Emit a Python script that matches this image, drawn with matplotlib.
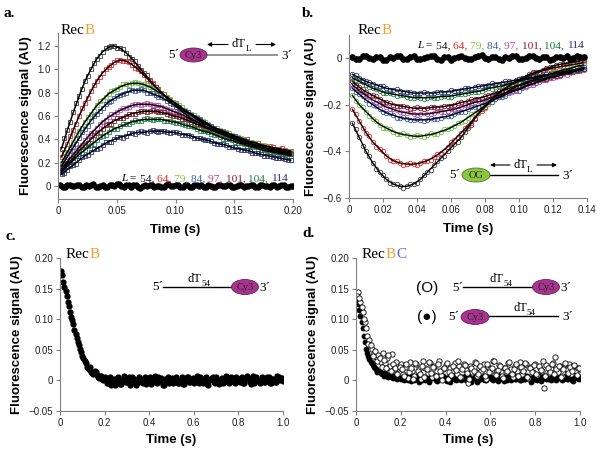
import matplotlib
matplotlib.use('Agg')
import matplotlib.pyplot as plt
from matplotlib.patches import Ellipse
import numpy as np

plt.rcParams['font.family'] = ['Liberation Sans', 'DejaVu Sans']
SERIF = ['Liberation Serif', 'DejaVu Serif']

# ---------------- data ----------------
lengths = ['54', '64', '79', '84', '97', '101', '104', '114']
series_colors = ['#3a3a3a', '#e8262a', '#6cbf3e', '#3b5ca8', '#c44dbb', '#8f1f2e', '#1d8a45', '#2c3580']
label_colors = ['#111111', '#e02020', '#8cc63f', '#3a5fad', '#c040a0', '#8b1a2a', '#1a7a40', '#2a2a6a']

# panel a: Cy3 signal. fit curve values (time in ms) and extra observed points between them
time_a_ms = [3, 8, 13, 18, 23, 28, 33, 38, 43, 48, 53, 58, 63, 68, 73, 78, 83, 88, 93, 98,
             103, 108, 113, 118, 123, 128, 133, 138, 143, 148, 153, 158, 163, 168, 173, 178, 183, 188, 193, 198]
time_a_obs_ms = [5.5, 10.5, 15.5, 20.5, 25.5, 30.5, 35.5, 40.5, 45.5, 50.5, 55.5, 60.5, 65.5, 70.5, 75.5, 80.5,
                 85.5, 90.5, 95.5, 100.5, 105.5, 110.5, 115.5, 120.5, 125.5, 130.5, 135.5, 140.5, 145.5, 150.5,
                 155.5, 160.5, 165.5, 170.5, 175.5, 180.5, 185.5, 190.5, 195.5]
a_54 = [0.32, 0.48, 0.63, 0.77, 0.90, 1.00, 1.09, 1.15, 1.19, 1.20, 1.18, 1.14, 1.09, 1.03, 0.97, 0.91, 0.85, 0.80, 0.75, 0.70,
        0.66, 0.62, 0.58, 0.55, 0.52, 0.49, 0.47, 0.45, 0.43, 0.41, 0.39, 0.37, 0.36, 0.34, 0.33, 0.32, 0.31, 0.30, 0.29, 0.28]
a_64 = [0.25, 0.36, 0.48, 0.60, 0.71, 0.81, 0.90, 0.97, 1.02, 1.06, 1.08, 1.07, 1.04, 1.00, 0.95, 0.90, 0.85, 0.80, 0.76, 0.72,
        0.68, 0.64, 0.61, 0.57, 0.54, 0.52, 0.49, 0.47, 0.45, 0.43, 0.41, 0.40, 0.38, 0.37, 0.35, 0.34, 0.33, 0.32, 0.31, 0.30]
a_79 = [0.20, 0.29, 0.38, 0.47, 0.55, 0.62, 0.69, 0.74, 0.79, 0.82, 0.85, 0.87, 0.88, 0.88, 0.87, 0.85, 0.82, 0.79, 0.76, 0.72,
        0.69, 0.65, 0.62, 0.59, 0.56, 0.53, 0.50, 0.48, 0.46, 0.44, 0.42, 0.40, 0.38, 0.37, 0.35, 0.34, 0.32, 0.31, 0.30, 0.29]
a_84 = [0.17, 0.25, 0.33, 0.41, 0.49, 0.56, 0.62, 0.67, 0.72, 0.75, 0.78, 0.80, 0.82, 0.82, 0.82, 0.80, 0.78, 0.76, 0.73, 0.70,
        0.67, 0.64, 0.61, 0.58, 0.55, 0.52, 0.50, 0.47, 0.45, 0.43, 0.41, 0.39, 0.37, 0.35, 0.34, 0.32, 0.31, 0.30, 0.29, 0.27]
a_97 = [0.15, 0.21, 0.27, 0.33, 0.39, 0.45, 0.50, 0.55, 0.59, 0.62, 0.65, 0.67, 0.69, 0.70, 0.70, 0.70, 0.69, 0.68, 0.66, 0.64,
        0.62, 0.60, 0.57, 0.55, 0.52, 0.50, 0.48, 0.46, 0.44, 0.42, 0.40, 0.38, 0.36, 0.35, 0.33, 0.32, 0.31, 0.29, 0.28, 0.27]
a_101 = [0.13, 0.19, 0.24, 0.30, 0.35, 0.40, 0.45, 0.49, 0.53, 0.56, 0.58, 0.60, 0.62, 0.63, 0.64, 0.64, 0.64, 0.63, 0.62, 0.60,
         0.59, 0.57, 0.55, 0.53, 0.51, 0.49, 0.47, 0.45, 0.43, 0.41, 0.39, 0.37, 0.36, 0.34, 0.33, 0.31, 0.30, 0.29, 0.28, 0.27]
a_104 = [0.12, 0.17, 0.22, 0.27, 0.31, 0.35, 0.39, 0.43, 0.46, 0.49, 0.51, 0.53, 0.55, 0.56, 0.57, 0.57, 0.57, 0.57, 0.56, 0.55,
         0.54, 0.52, 0.51, 0.49, 0.47, 0.46, 0.44, 0.42, 0.40, 0.39, 0.37, 0.36, 0.34, 0.33, 0.31, 0.30, 0.29, 0.28, 0.27, 0.26]
a_114 = [0.10, 0.14, 0.18, 0.22, 0.26, 0.29, 0.32, 0.35, 0.38, 0.40, 0.42, 0.43, 0.45, 0.46, 0.46, 0.47, 0.47, 0.47, 0.46, 0.46,
         0.45, 0.44, 0.43, 0.41, 0.40, 0.39, 0.37, 0.36, 0.35, 0.33, 0.32, 0.31, 0.30, 0.28, 0.27, 0.26, 0.25, 0.24, 0.23, 0.22]
a_54_obs = [0.41, 0.545, 0.715, 0.835, 0.94, 1.055, 1.11, 1.185, 1.20, 1.18, 1.17, 1.105, 1.07, 0.99, 0.95, 0.875, 0.835, 0.765,
            0.73, 0.675, 0.65, 0.59, 0.57, 0.53, 0.51, 0.475, 0.465, 0.435, 0.425, 0.395, 0.385, 0.36, 0.355, 0.33, 0.33, 0.31,
            0.31, 0.29, 0.29]
a_64_obs = [0.295, 0.43, 0.535, 0.665, 0.755, 0.865, 0.93, 1.005, 1.035, 1.08, 1.07, 1.065, 1.01, 0.985, 0.92, 0.885, 0.82,
            0.79, 0.735, 0.71, 0.655, 0.635, 0.585, 0.565, 0.525, 0.515, 0.475, 0.47, 0.435, 0.43, 0.40, 0.40, 0.37, 0.37,
            0.34, 0.345, 0.32, 0.325, 0.30]
a_79_obs = [0.255, 0.325, 0.435, 0.50, 0.595, 0.645, 0.725, 0.76, 0.815, 0.83, 0.87, 0.865, 0.89, 0.87, 0.865, 0.83, 0.81,
            0.765, 0.745, 0.70, 0.68, 0.63, 0.61, 0.57, 0.55, 0.51, 0.495, 0.465, 0.455, 0.425, 0.415, 0.385, 0.38, 0.355,
            0.35, 0.325, 0.32, 0.30, 0.30]
a_84_obs = [0.20, 0.30, 0.36, 0.46, 0.515, 0.60, 0.64, 0.705, 0.73, 0.775, 0.785, 0.82, 0.815, 0.83, 0.80, 0.795, 0.76, 0.75,
            0.71, 0.69, 0.65, 0.63, 0.59, 0.57, 0.53, 0.515, 0.48, 0.465, 0.435, 0.425, 0.395, 0.385, 0.355, 0.35, 0.325,
            0.32, 0.30, 0.30, 0.275]
a_97_obs = [0.19, 0.23, 0.31, 0.355, 0.43, 0.465, 0.535, 0.565, 0.615, 0.63, 0.67, 0.675, 0.705, 0.695, 0.71, 0.69, 0.69,
            0.665, 0.655, 0.625, 0.615, 0.58, 0.565, 0.53, 0.515, 0.485, 0.475, 0.445, 0.435, 0.405, 0.395, 0.365, 0.36,
            0.335, 0.33, 0.31, 0.305, 0.28, 0.28]
a_101_obs = [0.15, 0.225, 0.26, 0.335, 0.365, 0.435, 0.46, 0.52, 0.535, 0.58, 0.585, 0.62, 0.62, 0.645, 0.635, 0.65, 0.63,
             0.63, 0.605, 0.60, 0.575, 0.565, 0.535, 0.525, 0.495, 0.485, 0.455, 0.445, 0.415, 0.405, 0.375, 0.37, 0.345,
             0.34, 0.315, 0.31, 0.29, 0.29, 0.27]
a_104_obs = [0.155, 0.185, 0.255, 0.28, 0.34, 0.36, 0.42, 0.435, 0.485, 0.49, 0.53, 0.535, 0.565, 0.56, 0.58, 0.565, 0.575,
             0.56, 0.56, 0.54, 0.535, 0.51, 0.505, 0.475, 0.47, 0.445, 0.435, 0.405, 0.40, 0.375, 0.37, 0.345, 0.34, 0.315,
             0.31, 0.29, 0.29, 0.27, 0.27]
a_114_obs = [0.11, 0.17, 0.19, 0.25, 0.265, 0.315, 0.325, 0.375, 0.38, 0.42, 0.415, 0.45, 0.445, 0.47, 0.455, 0.48, 0.46,
             0.475, 0.45, 0.465, 0.44, 0.44, 0.415, 0.41, 0.39, 0.385, 0.36, 0.36, 0.335, 0.33, 0.31, 0.31, 0.285, 0.28,
             0.26, 0.26, 0.24, 0.24, 0.22]
a_fit = [a_54, a_64, a_79, a_84, a_97, a_101, a_104, a_114]
a_obs = [a_54_obs, a_64_obs, a_79_obs, a_84_obs, a_97_obs, a_101_obs, a_104_obs, a_114_obs]
base_a_ms = list(range(2, 199, 4))
base_a2_ms = list(range(4, 201, 4))
base_a = [0.005, -0.008, 0.012, -0.004, 0.009, -0.011, 0.003, 0.014, -0.006, 0.008,
          -0.012, 0.006, 0.018, -0.003, 0.010, -0.009, 0.004, -0.014, 0.007, 0.011,
          -0.005, 0.002, -0.010, 0.013, -0.002, 0.006, -0.008, 0.009, -0.013, 0.004,
          0.010, -0.006, 0.003, -0.011, 0.008, -0.004, 0.012, -0.007, 0.005, -0.009,
          0.002, 0.009, -0.012, 0.006, -0.003, 0.011, -0.008, 0.004, -0.006, 0.003]
base_a2 = [-0.006, 0.010, -0.003, 0.007, -0.010, 0.005, 0.012, -0.008, 0.002, -0.005,
           0.009, -0.002, 0.014, -0.007, 0.004, 0.008, -0.011, 0.003, -0.004, 0.010,
           0.001, -0.009, 0.006, -0.003, 0.011, -0.006, 0.004, -0.010, 0.007, 0.002,
           -0.005, 0.009, -0.008, 0.005, -0.002, 0.010, -0.006, 0.003, 0.008, -0.004,
           0.006, -0.010, 0.004, 0.001, -0.007, 0.009, -0.003, 0.005, -0.008, 0.002]

# panel b: OG signal (time in ms)
time_b_ms = [2, 6, 10, 14, 18, 22, 26, 30, 34, 38, 42, 46, 50, 54, 58, 62, 66, 70, 74, 78,
             82, 86, 90, 94, 98, 102, 106, 110, 114, 118, 122, 126, 130, 134, 138]
time_b_obs_ms = [4, 8, 12, 16, 20, 24, 28, 32, 36, 40, 44, 48, 52, 56, 60, 64, 68, 72, 76, 80,
                 84, 88, 92, 96, 100, 104, 108, 112, 116, 120, 124, 128, 132, 136]
b_54 = [-0.28, -0.34, -0.40, -0.45, -0.49, -0.52, -0.54, -0.55, -0.55, -0.54, -0.52, -0.49, -0.46, -0.43, -0.40, -0.37, -0.34, -0.30,
        -0.26, -0.22, -0.19, -0.16, -0.14, -0.12, -0.10, -0.085, -0.07, -0.06, -0.05, -0.04, -0.03, -0.025, -0.02, -0.015, -0.01]
b_64 = [-0.22, -0.27, -0.32, -0.36, -0.39, -0.42, -0.44, -0.45, -0.455, -0.455, -0.45, -0.44, -0.425, -0.405, -0.38, -0.35, -0.32, -0.29,
        -0.255, -0.225, -0.195, -0.165, -0.14, -0.12, -0.10, -0.09, -0.075, -0.065, -0.055, -0.045, -0.04, -0.035, -0.03, -0.025, -0.02]
b_79 = [-0.16, -0.20, -0.23, -0.26, -0.285, -0.30, -0.315, -0.325, -0.33, -0.335, -0.335, -0.33, -0.325, -0.315, -0.305, -0.29, -0.275, -0.255,
        -0.235, -0.215, -0.195, -0.175, -0.16, -0.14, -0.125, -0.11, -0.10, -0.09, -0.08, -0.07, -0.06, -0.05, -0.045, -0.035, -0.03]
b_84 = [-0.13, -0.155, -0.18, -0.20, -0.22, -0.235, -0.245, -0.255, -0.26, -0.265, -0.265, -0.265, -0.26, -0.255, -0.25, -0.24, -0.23, -0.22,
        -0.21, -0.20, -0.19, -0.175, -0.165, -0.15, -0.14, -0.13, -0.115, -0.105, -0.095, -0.085, -0.075, -0.065, -0.055, -0.05, -0.04]
b_97 = [-0.115, -0.14, -0.16, -0.18, -0.195, -0.21, -0.22, -0.23, -0.235, -0.24, -0.24, -0.24, -0.235, -0.23, -0.225, -0.22, -0.21, -0.20,
        -0.19, -0.185, -0.175, -0.165, -0.155, -0.145, -0.135, -0.125, -0.115, -0.105, -0.095, -0.085, -0.08, -0.07, -0.065, -0.055, -0.05]
b_101 = [-0.10, -0.125, -0.145, -0.16, -0.175, -0.19, -0.20, -0.205, -0.21, -0.215, -0.215, -0.215, -0.21, -0.21, -0.205, -0.20, -0.19, -0.185,
         -0.175, -0.17, -0.16, -0.15, -0.14, -0.13, -0.12, -0.115, -0.105, -0.095, -0.09, -0.08, -0.075, -0.065, -0.06, -0.055, -0.045]
b_104 = [-0.085, -0.10, -0.115, -0.13, -0.14, -0.15, -0.155, -0.16, -0.165, -0.17, -0.17, -0.17, -0.17, -0.165, -0.165, -0.16, -0.155, -0.15,
         -0.145, -0.14, -0.13, -0.125, -0.12, -0.11, -0.105, -0.095, -0.09, -0.085, -0.075, -0.07, -0.065, -0.06, -0.055, -0.05, -0.045]
b_114 = [-0.07, -0.085, -0.10, -0.11, -0.12, -0.13, -0.135, -0.14, -0.145, -0.15, -0.15, -0.15, -0.15, -0.145, -0.145, -0.14, -0.135, -0.13,
         -0.125, -0.12, -0.115, -0.11, -0.105, -0.10, -0.095, -0.09, -0.085, -0.08, -0.075, -0.07, -0.065, -0.06, -0.055, -0.05, -0.045]
b_54_obs = [-0.305, -0.375, -0.42, -0.475, -0.50, -0.535, -0.54, -0.555, -0.54, -0.535, -0.50, -0.48, -0.44, -0.42, -0.38, -0.36, -0.315,
            -0.285, -0.235, -0.21, -0.17, -0.155, -0.125, -0.115, -0.09, -0.08, -0.062, -0.058, -0.043, -0.037, -0.026, -0.024, -0.016, -0.014]
b_64_obs = [-0.24, -0.30, -0.335, -0.38, -0.40, -0.435, -0.44, -0.458, -0.45, -0.458, -0.44, -0.438, -0.41, -0.398, -0.36, -0.34, -0.30,
            -0.278, -0.235, -0.215, -0.175, -0.158, -0.125, -0.115, -0.09, -0.088, -0.066, -0.064, -0.047, -0.046, -0.035, -0.036, -0.025, -0.025]
b_79_obs = [-0.185, -0.21, -0.25, -0.268, -0.298, -0.303, -0.325, -0.323, -0.338, -0.33, -0.338, -0.323, -0.325, -0.305, -0.302, -0.278,
            -0.27, -0.24, -0.23, -0.20, -0.19, -0.163, -0.155, -0.128, -0.122, -0.10, -0.099, -0.081, -0.079, -0.061, -0.059, -0.044, -0.043, -0.03]
b_84_obs = [-0.147, -0.163, -0.195, -0.206, -0.232, -0.236, -0.255, -0.253, -0.267, -0.261, -0.27, -0.258, -0.262, -0.248, -0.25, -0.231,
            -0.23, -0.211, -0.21, -0.191, -0.187, -0.166, -0.162, -0.141, -0.14, -0.118, -0.115, -0.096, -0.095, -0.076, -0.075, -0.056, -0.057, -0.041]
b_97_obs = [-0.123, -0.155, -0.166, -0.192, -0.198, -0.22, -0.221, -0.237, -0.233, -0.245, -0.236, -0.242, -0.228, -0.232, -0.218, -0.22,
            -0.201, -0.199, -0.183, -0.184, -0.166, -0.164, -0.146, -0.144, -0.126, -0.124, -0.106, -0.104, -0.086, -0.087, -0.071, -0.072, -0.056, -0.057]
b_101_obs = [-0.117, -0.131, -0.157, -0.164, -0.187, -0.191, -0.207, -0.204, -0.217, -0.211, -0.219, -0.209, -0.214, -0.204, -0.207, -0.191,
             -0.192, -0.176, -0.177, -0.161, -0.159, -0.141, -0.139, -0.121, -0.122, -0.106, -0.104, -0.089, -0.089, -0.074, -0.074, -0.059, -0.061, -0.047]
b_104_obs = [-0.096, -0.104, -0.126, -0.131, -0.149, -0.149, -0.161, -0.159, -0.171, -0.166, -0.174, -0.167, -0.171, -0.161, -0.166, -0.154,
             -0.156, -0.144, -0.146, -0.131, -0.131, -0.119, -0.119, -0.104, -0.104, -0.089, -0.091, -0.077, -0.076, -0.064, -0.066, -0.054, -0.056, -0.044]
b_114_obs = [-0.074, -0.096, -0.101, -0.119, -0.121, -0.136, -0.134, -0.146, -0.144, -0.154, -0.146, -0.154, -0.144, -0.149, -0.139, -0.141,
             -0.129, -0.131, -0.119, -0.121, -0.109, -0.111, -0.099, -0.101, -0.089, -0.091, -0.079, -0.081, -0.069, -0.071, -0.059, -0.061, -0.049, -0.051]
b_fit = [b_54, b_64, b_79, b_84, b_97, b_101, b_104, b_114]
b_obs = [b_54_obs, b_64_obs, b_79_obs, b_84_obs, b_97_obs, b_101_obs, b_104_obs, b_114_obs]
base_b = [0.004, -0.006, 0.008, -0.003, 0.006, -0.009, 0.002, 0.010, -0.005, 0.007,
          -0.004, 0.003, 0.009, -0.007, 0.005, -0.002, 0.008, -0.006, 0.004, 0.011,
          -0.003, 0.006, -0.008, 0.002, 0.007, -0.005, 0.009, -0.002, 0.004, -0.007,
          0.006, 0.001, -0.004, 0.008, 0.003]
base_b2 = [-0.005, 0.007, -0.002, 0.005, -0.008, 0.003, 0.009, -0.004, 0.006, -0.006,
           0.002, 0.008, -0.003, 0.004, -0.007, 0.006, 0.001, -0.005, 0.009, -0.002,
           0.005, -0.006, 0.003, 0.007, -0.004, 0.002, 0.008, -0.003, 0.005, -0.006,
           0.004, 0.007, -0.002, 0.003]

# panels c, d (time in ms); two interleaved sampling sets
time_cd_ms = list(range(10, 1001, 10))
time_cd2_ms = list(range(5, 1000, 10))
c_recb = [0.172, 0.152, 0.138, 0.122, 0.104, 0.092, 0.076, 0.063, 0.052, 0.040,
          0.031, 0.022, 0.019, 0.014, 0.010, 0.013, 0.006, 0.008, 0.003, 0.005,
          -0.004, 0.002, -0.007, 0.003, -0.002, 0.005, -0.006, 0.001, 0.004, -0.003,
          0.006, -0.005, 0.002, -0.008, 0.003, 0.000, -0.004, 0.005, -0.002, 0.004,
          -0.006, 0.002, -0.003, 0.006, -0.001, -0.007, 0.003, 0.001, -0.005, 0.004,
          -0.002, 0.005, -0.004, 0.001, -0.006, 0.003, 0.006, -0.003, 0.002, -0.005,
          0.004, -0.001, 0.005, -0.004, 0.002, -0.006, 0.001, 0.004, -0.003, 0.006,
          -0.002, 0.003, -0.005, 0.002, 0.005, -0.004, 0.001, -0.003, 0.006, -0.001,
          0.004, -0.005, 0.002, 0.007, -0.002, 0.003, -0.004, 0.005, 0.001, -0.003,
          0.004, -0.002, 0.006, -0.004, 0.003, 0.001, -0.003, 0.005, 0.002, -0.001]
c_recb2 = [0.178, 0.160, 0.146, 0.128, 0.112, 0.098, 0.082, 0.070, 0.058, 0.046,
           0.036, 0.028, 0.020, 0.022, 0.012, 0.016, 0.009, 0.004, 0.007, 0.001,
           0.003, -0.005, 0.006, -0.002, -0.008, 0.004, 0.001, -0.006, 0.007, -0.003,
           0.002, -0.007, 0.005, 0.000, -0.004, 0.006, -0.002, 0.003, -0.006, 0.001,
           0.005, -0.003, 0.007, -0.005, 0.002, 0.004, -0.007, 0.000, 0.006, -0.002,
           -0.005, 0.003, 0.001, -0.004, 0.006, -0.006, 0.002, 0.005, -0.003, 0.004,
           -0.001, 0.007, -0.005, 0.003, -0.002, 0.005, -0.007, 0.002, 0.006, -0.004,
           0.001, -0.006, 0.004, -0.002, 0.007, -0.003, 0.005, 0.000, -0.005, 0.003,
           -0.002, 0.006, -0.004, 0.002, 0.004, -0.006, 0.007, -0.001, 0.003, -0.004,
           0.005, -0.002, 0.001, 0.006, -0.005, 0.003, -0.003, 0.007, 0.000, 0.004]
d_filled = [0.125, 0.105, 0.085, 0.062, 0.045, 0.035, 0.028, 0.022, 0.018, 0.015,
            0.012, 0.010, 0.012, 0.008, 0.009, 0.006, 0.007, 0.004, 0.006, 0.003,
            0.002, 0.006, 0.000, 0.005, 0.008, 0.001, 0.004, -0.002, 0.007, 0.003,
            0.000, 0.006, 0.002, 0.009, 0.004, -0.001, 0.005, 0.003, 0.007, 0.001,
            0.004, -0.003, 0.006, 0.002, 0.008, 0.003, 0.000, 0.005, 0.001, 0.007,
            0.004, 0.002, 0.006, -0.002, 0.005, 0.003, 0.008, 0.001, 0.004, 0.006,
            0.000, 0.005, 0.002, 0.007, 0.003, -0.001, 0.006, 0.004, 0.001, 0.008,
            0.003, 0.005, 0.000, 0.006, 0.002, 0.007, 0.004, -0.002, 0.005, 0.003,
            0.001, 0.006, 0.004, 0.008, 0.002, 0.005, 0.000, 0.007, 0.003, 0.004,
            0.006, 0.001, 0.005, 0.002, 0.007, 0.003, -0.001, 0.005, 0.004, 0.006]
d_filled2 = [0.130, 0.115, 0.095, 0.072, 0.052, 0.040, 0.030, 0.025, 0.020, 0.014,
             0.016, 0.010, 0.008, 0.011, 0.006, 0.008, 0.004, 0.007, 0.003, 0.005,
             0.005, 0.001, 0.007, 0.003, -0.001, 0.006, 0.002, 0.008, 0.004, 0.000,
             0.006, 0.003, -0.002, 0.005, 0.007, 0.001, 0.004, 0.008, 0.002, 0.005,
             -0.001, 0.006, 0.003, 0.007, 0.000, 0.004, 0.006, 0.002, 0.008, 0.003,
             0.005, -0.002, 0.004, 0.007, 0.001, 0.006, 0.003, 0.000, 0.005, 0.008,
             0.002, 0.006, 0.004, -0.001, 0.007, 0.003, 0.005, 0.001, 0.006, 0.004,
             0.008, 0.002, 0.005, 0.000, 0.006, 0.003, 0.007, 0.004, 0.001, 0.005,
             0.003, 0.007, -0.001, 0.004, 0.006, 0.002, 0.008, 0.003, 0.005, 0.001,
             0.006, 0.004, 0.002, 0.007, 0.003, 0.005, 0.000, 0.006, 0.004, 0.002]
d_open = [0.145, 0.128, 0.112, 0.095, 0.072, 0.066, 0.052, 0.045, 0.038, 0.042,
          0.030, 0.044, 0.028, 0.036, 0.024, 0.043, 0.018, 0.030, 0.012, 0.026,
          0.010, 0.022, 0.004, 0.030, 0.015, 0.008, 0.026, 0.018, 0.003, 0.032,
          0.020, 0.012, 0.028, 0.006, 0.024, 0.016, 0.031, 0.009, 0.019, 0.025,
          0.002, 0.021, 0.014, 0.029, 0.011, 0.023, 0.005, 0.027, 0.017, -0.004,
          0.024, 0.013, 0.030, 0.008, 0.020, 0.015, 0.026, 0.003, 0.022, 0.018,
          0.031, 0.010, 0.016, 0.025, 0.007, 0.021, 0.013, 0.028, 0.019, 0.006,
          0.024, 0.015, 0.030, 0.011, 0.018, 0.026, 0.004, 0.022, 0.014, 0.027,
          0.009, 0.020, 0.016, -0.012, 0.025, 0.012, 0.019, 0.028, 0.039, 0.014,
          0.023, 0.008, 0.021, 0.017, 0.026, 0.010, 0.024, 0.015, 0.020, 0.018]
d_open2 = [0.138, 0.135, 0.120, 0.100, 0.085, 0.060, 0.058, 0.040, 0.048, 0.032,
           0.036, 0.022, 0.034, 0.020, 0.041, 0.015, 0.027, 0.020, 0.010, 0.022,
           0.018, 0.007, 0.027, 0.013, 0.021, 0.002, 0.029, 0.016, 0.011, 0.024,
           0.005, 0.019, 0.030, 0.012, 0.022, 0.008, 0.026, 0.015, 0.001, 0.020,
           0.028, 0.014, 0.009, 0.023, 0.017, 0.031, 0.006, 0.019, 0.025, 0.012,
           0.003, 0.021, 0.016, 0.029, 0.010, 0.024, 0.018, 0.007, 0.027, 0.013,
           0.020, 0.032, 0.009, 0.017, 0.024, 0.004, 0.021, 0.015, 0.030, 0.011,
           0.019, 0.026, 0.008, 0.022, 0.016, 0.028, 0.005, 0.020, 0.013, 0.025,
           0.010, 0.023, 0.017, 0.031, 0.007, 0.021, 0.014, 0.027, 0.011, 0.019,
           0.024, 0.006, 0.018, 0.029, 0.012, 0.022, 0.016, 0.025, 0.009, 0.020]

# ---------------- figure ----------------
W, H = 602, 453
fig = plt.figure(figsize=(W / 100, H / 100), dpi=100)


def px_axes(l, r, top, bottom):
    return fig.add_axes([l / W, (H - bottom) / H, (r - l) / W, (bottom - top) / H])


def style(ax):
    for s in ['top', 'right']:
        ax.spines[s].set_visible(False)
    for s in ['left', 'bottom']:
        ax.spines[s].set_color('#808080')
        ax.spines[s].set_linewidth(0.8)
    ax.tick_params(direction='out', length=3, width=0.8, color='#808080',
                   labelsize=7, labelcolor='#222222', pad=2)
    ax.patch.set_alpha(0)


def labels(ax, xpad, ypad):
    ax.set_xlabel('Time (s)', fontsize=9.5, fontweight='bold', labelpad=xpad)
    ax.set_ylabel('Fluorescence signal (AU)', fontsize=9.5, fontweight='bold', labelpad=ypad)


sec = lambda ms: np.asarray(ms) / 1000.0

# panel a
ax_a = px_axes(58, 293, 33.1, 198.8)
style(ax_a)
for fit, obs, c in zip(a_fit, a_obs, series_colors):
    ax_a.plot(sec(time_a_ms), fit, ls='none', marker='s', ms=3.3, mfc='none', mec=c, mew=0.6)
    ax_a.plot(sec(time_a_obs_ms), obs, ls='none', marker='s', ms=3.3, mfc='none', mec=c, mew=0.6)
for fit in a_fit:
    ax_a.plot(sec(time_a_ms), fit, color='black', lw=1.1)
ax_a.plot(sec(base_a_ms), base_a, ls='none', marker='o', ms=4.6, color='black', mew=0)
ax_a.plot(sec(base_a2_ms), base_a2, ls='none', marker='o', ms=4.6, color='black', mew=0)
ax_a.set_xlim(0, 0.2)
ax_a.set_ylim(-0.11, 1.31)
ax_a.set_xticks([0, 0.05, 0.10, 0.15, 0.20], ['0', '0.05', '0.10', '0.15', '0.20'])
ax_a.set_yticks([0, 0.2, 0.4, 0.6, 0.8, 1.0, 1.2], ['0', '0.2', '0.4', '0.6', '0.8', '1.0', '1.2'])
labels(ax_a, 6, 4)

# panel b
ax_b = px_axes(349, 587, 34.7, 198)
style(ax_b)
for fit, obs, c in zip(b_fit, b_obs, series_colors):
    ax_b.plot(sec(time_b_ms), fit, ls='none', marker='o', ms=3.2, mfc='none', mec=c, mew=0.6)
    ax_b.plot(sec(time_b_obs_ms), obs, ls='none', marker='o', ms=3.2, mfc='none', mec=c, mew=0.6)
for fit in b_fit:
    ax_b.plot(sec(time_b_ms), fit, color='black', lw=1.0)
ax_b.plot(sec(time_b_ms), base_b, ls='none', marker='o', ms=4.8, color='black', mew=0)
ax_b.plot(sec(time_b_obs_ms), base_b2, ls='none', marker='o', ms=4.8, color='black', mew=0)
ax_b.set_xlim(0, 0.14)
ax_b.set_ylim(-0.6, 0.1)
ax_b.set_xticks([0, 0.02, 0.04, 0.06, 0.08, 0.10, 0.12, 0.14],
                ['0', '0.02', '0.04', '0.06', '0.08', '0.10', '0.12', '0.14'])
ax_b.set_yticks([-0.6, -0.4, -0.2, 0], ['\u22120.6', '\u22120.4', '\u22120.2', '0'])
labels(ax_b, 6, 4)

# panel c
ax_c = px_axes(60, 283, 258, 411)
style(ax_c)
ax_c.plot(sec(time_cd_ms), c_recb, ls='none', marker='o', ms=4.5, color='black', mew=0)
ax_c.plot(sec(time_cd2_ms), c_recb2, ls='none', marker='o', ms=4.5, color='black', mew=0)
ax_c.set_xlim(0, 1.0)
ax_c.set_ylim(-0.05, 0.20)
ax_c.set_xticks([0, 0.2, 0.4, 0.6, 0.8, 1.0], ['0', '0.2', '0.4', '0.6', '0.8', '1.0'])
ax_c.set_yticks([-0.05, 0, 0.05, 0.10, 0.15, 0.20], ['\u22120.05', '0', '0.05', '0.10', '0.15', '0.20'])
labels(ax_c, 4, 4)

# panel d
ax_d = px_axes(356, 580, 258, 411)
style(ax_d)
ax_d.plot(sec(time_cd_ms), d_filled, ls='none', marker='o', ms=4.2, color='black', mew=0)
ax_d.plot(sec(time_cd2_ms), d_filled2, ls='none', marker='o', ms=4.2, color='black', mew=0)
ax_d.plot(sec(time_cd_ms), d_open, ls='none', marker='o', ms=3.8, mfc='white', mec='black', mew=0.6)
ax_d.plot(sec(time_cd2_ms), d_open2, ls='none', marker='o', ms=3.8, mfc='white', mec='black', mew=0.6)
ax_d.set_xlim(0, 1.0)
ax_d.set_ylim(-0.05, 0.20)
ax_d.set_xticks([0, 0.2, 0.4, 0.6, 0.8, 1.0], ['0', '0.2', '0.4', '0.6', '0.8', '1.0'])
ax_d.set_yticks([-0.05, 0, 0.05, 0.10, 0.15, 0.20], ['\u22120.05', '0', '0.05', '0.10', '0.15', '0.20'])
labels(ax_d, 4, 4)

# ---------------- overlay (pixel coords) ----------------
ov = fig.add_axes([0, 0, 1, 1])
ov.set_xlim(0, W)
ov.set_ylim(H, 0)
ov.axis('off')


def chain(x, y, parts, size, family=SERIF):
    prev = None
    for p in parts:
        txt, col = p[0], p[1]
        kw = p[2] if len(p) > 2 else {}
        if prev is None:
            prev = ov.text(x, y, txt, color=col, va='bottom', ha='left', fontsize=size,
                           family=family, **kw)
        else:
            prev = ov.annotate(txt, xy=(1, 0), xycoords=prev, va='bottom', ha='left',
                               color=col, fontsize=size, family=family, **kw)
    return prev


ORANGE = '#f2a032'
BLUEC = '#5563b5'
for x, y, s in [(4, 20, 'a.'), (302, 20, 'b.'), (6, 243, 'c.'), (302, 240, 'd.')]:
    ov.text(x, y, s, fontsize=11, fontweight='bold', family=SERIF, va='bottom', ha='left')
chain(61, 37, [('Rec', 'black'), ('B', ORANGE)], 11)
chain(358, 37, [('Rec', 'black'), ('B', ORANGE)], 11)
chain(66, 261, [('Rec', 'black'), ('B', ORANGE)], 11)
chain(362, 261, [('Rec', 'black'), ('B', ORANGE), ('C', BLUEC)], 11)


def length_legend(x, y):
    parts = [('L', 'black', {'style': 'italic'}), (' = ', 'black')]
    for i, (lab, col) in enumerate(zip(lengths, label_colors)):
        txt = lab + (', ' if i < len(lengths) - 1 else '')
        parts.append((txt, col))
    chain(x, y, parts, 8.2)


length_legend(121, 183)
length_legend(417, 50)

CY3 = '#a8348f'
OG = '#8cc63f'


def ellipse(cx, cy, w, h, fc, ec, label):
    ov.add_patch(Ellipse((cx, cy), w, h, fc=fc, ec=ec, lw=0.6, zorder=3))
    ov.text(cx, cy + 0.5, label, ha='center', va='center', fontsize=7.5, family=SERIF,
            color='#222222', zorder=4)


def prime(x, y, s, ha='left'):
    ov.text(x, y, s, ha=ha, va='center', fontsize=9.5, family=SERIF)


def dT(x, y, sub):
    t = ov.text(x, y, 'dT', ha='left', va='bottom', fontsize=9, family=SERIF)
    ov.annotate(sub, xy=(1, 0), xycoords=t, xytext=(0, -2), textcoords='offset points',
                va='bottom', ha='left', fontsize=6.5, family=SERIF)


def arrow(x0, x1, y):
    ov.annotate('', xy=(x1, y), xytext=(x0, y),
                arrowprops=dict(arrowstyle='-|>', color='black', lw=0.8,
                                mutation_scale=6, shrinkA=0, shrinkB=0))


# panel a schematic
prime(179, 55, '5\u00b4', ha='right')
ov.plot([207, 277], [55, 55], color='#808080', lw=1.2)
ellipse(193.5, 55, 27, 14, CY3, '#6a1f5c', 'Cy3')
prime(281, 56, '3\u00b4')
arrow(228, 207, 44.5)
arrow(256, 276, 44.5)
dT(232, 50, 'L')

# panel b schematic
prime(460, 175, '5\u00b4', ha='right')
ov.plot([490, 558], [175, 175], color='black', lw=1.0)
ellipse(476, 175, 28, 14, OG, '#4f7a23', 'OG')
prime(562, 176, '3\u00b4')
arrow(510, 490, 165)
arrow(537, 557, 165)
dT(513, 171, 'L')

# panel c schematic
prime(163, 287, '5\u00b4', ha='right')
ov.plot([163, 232], [286.5, 286.5], color='black', lw=1.0)
ellipse(245, 287, 27, 15, CY3, '#6a1f5c', 'Cy3')
prime(259, 288, '3\u00b4')
dT(188, 285, '54')

# panel d schematic
ov.text(427, 288, '(O)', ha='center', va='center', fontsize=11)
prime(463, 288, '5\u00b4', ha='right')
ov.plot([463, 533], [286.7, 286.7], color='black', lw=1.0)
ellipse(546, 287, 27, 15, CY3, '#6a1f5c', 'Cy3')
prime(560, 288, '3\u00b4')
dT(490, 285, '54')

ov.text(427, 317, '(\u25cf)', ha='center', va='center', fontsize=11,
        family=['Liberation Sans', 'DejaVu Sans'])
prime(459, 317, '5\u00b4', ha='right')
ov.plot([489, 558], [315.7, 315.7], color='black', lw=1.0)
ellipse(475, 317, 28, 15, CY3, '#6a1f5c', 'Cy3')
prime(562, 317, '3\u00b4')
dT(513, 314, '54')

fig.savefig('out.png', dpi=100)
